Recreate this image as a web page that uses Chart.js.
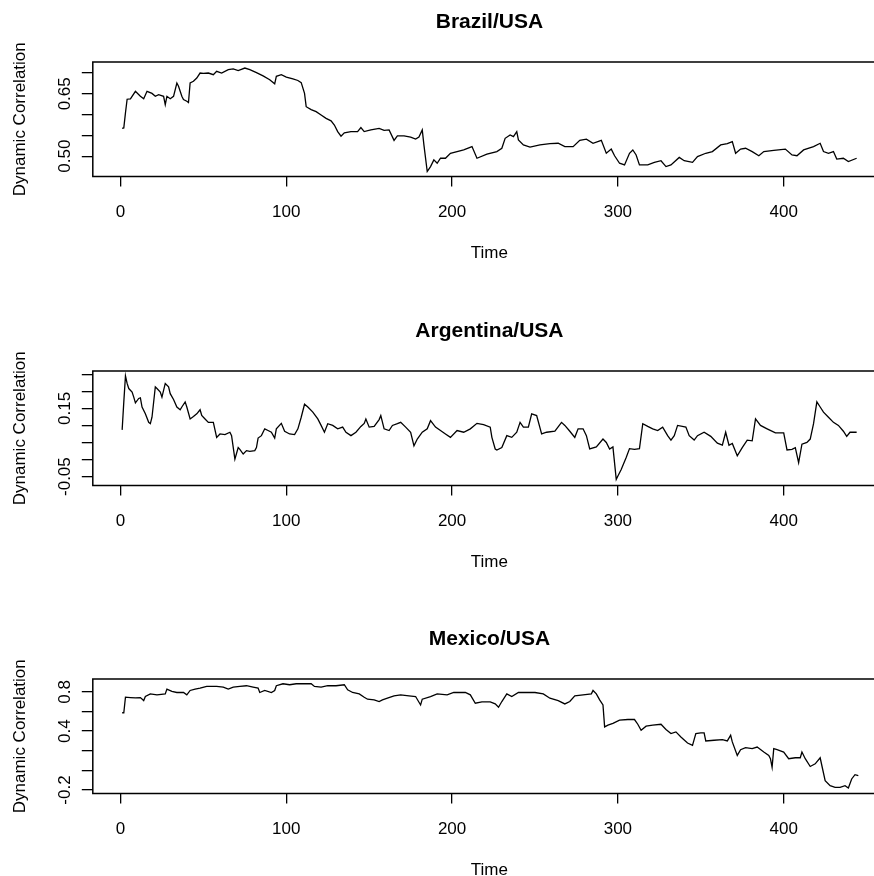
<!DOCTYPE html>
<html>
<head>
<meta charset="utf-8">
<title>Dynamic Correlation</title>
<script src="https://cdn.jsdelivr.net/npm/chart.js@4.4.1/dist/chart.umd.min.js"></script>
<style>
  html, body { margin: 0; padding: 0; background: #fff; overflow: hidden; }
  #wrap { position: relative; width: 874px; height: 876px; overflow: hidden; }
  canvas { position: absolute; left: 0; }
</style>
</head>
<body>
<div id="wrap">
  <canvas id="brazil" width="900" height="308" style="top:0px"></canvas>
  <canvas id="argentina" width="900" height="308" style="top:309px"></canvas>
  <canvas id="mexico" width="900" height="308" style="top:617px"></canvas>
</div>
<script>
'use strict';

// x axis
var xTicks = [0, 100, 200, 300, 400];

// Brazil/USA
var brazilTime = [
    1, 2, 3, 4, 6, 9, 12, 14, 16, 19,
    21, 23, 26, 27, 28, 30, 32, 34, 35, 37,
    38, 40, 41, 42, 44, 46, 48, 50, 53, 56,
    58, 61, 65, 68, 71, 75, 78, 82, 86, 90,
    93, 94, 97, 100, 104, 107, 109, 111, 112, 115,
    118, 121, 124, 127, 129, 131, 133, 135, 139, 143,
    145, 147, 151, 156, 159, 162, 165, 167, 171, 175,
    178, 180, 182, 183, 185, 187, 189, 191, 193, 196,
    199, 203, 207, 212, 215, 221, 227, 230, 232, 235,
    237, 239, 240, 243, 247, 253, 259, 264, 268, 273,
    277, 281, 285, 290, 293, 296, 298, 301, 304, 307,
    309, 311, 313, 318, 322, 326, 329, 332, 337, 340,
    345, 348, 353, 357, 362, 366, 369, 371, 374, 377,
    381, 385, 388, 394, 401, 405, 408, 412, 418, 422,
    424, 427, 430, 432, 436, 439, 444
];
var brazilValues = [
    0.567, 0.568, 0.604, 0.637, 0.638, 0.656, 0.644, 0.638, 0.656, 0.651,
    0.644, 0.648, 0.644, 0.624, 0.644, 0.638, 0.644, 0.676, 0.668, 0.644,
    0.636, 0.632, 0.629, 0.676, 0.680, 0.688, 0.700, 0.699, 0.700, 0.696,
    0.704, 0.700, 0.708, 0.710, 0.706, 0.712, 0.708, 0.701, 0.693, 0.684,
    0.674, 0.692, 0.696, 0.690, 0.686, 0.682, 0.677, 0.651, 0.619, 0.612,
    0.607, 0.599, 0.591, 0.585, 0.575, 0.559, 0.548, 0.556, 0.559, 0.559,
    0.569, 0.559, 0.563, 0.567, 0.562, 0.563, 0.538, 0.549, 0.549, 0.546,
    0.541, 0.546, 0.563, 0.527, 0.463, 0.475, 0.491, 0.483, 0.495, 0.495,
    0.507, 0.511, 0.515, 0.523, 0.495, 0.505, 0.511, 0.519, 0.543, 0.551,
    0.547, 0.559, 0.539, 0.527, 0.522, 0.527, 0.530, 0.531, 0.523, 0.523,
    0.538, 0.541, 0.531, 0.538, 0.507, 0.517, 0.501, 0.483, 0.479, 0.507,
    0.515, 0.503, 0.479, 0.479, 0.485, 0.489, 0.475, 0.479, 0.497, 0.489,
    0.485, 0.499, 0.507, 0.511, 0.527, 0.530, 0.535, 0.507, 0.517, 0.519,
    0.511, 0.501, 0.511, 0.514, 0.517, 0.503, 0.501, 0.515, 0.523, 0.531,
    0.511, 0.507, 0.511, 0.493, 0.495, 0.487, 0.495
];
var brazilYTicks = [0.50, 0.55, 0.60, 0.65, 0.70];
var brazilYLabels = ['0.50', '0.65'];

// Argentina/USA
var argentinaTime = [
    1, 2, 3, 4, 5, 7, 8, 9, 11, 12,
    13, 15, 17, 18, 19, 21, 22, 24, 25, 27,
    29, 30, 32, 34, 36, 37, 39, 40, 42, 44,
    46, 48, 49, 51, 53, 56, 58, 60, 63, 66,
    67, 69, 71, 72, 74, 76, 78, 81, 82, 83,
    85, 87, 89, 91, 93, 94, 97, 99, 102, 105,
    107, 109, 111, 113, 116, 119, 121, 123, 125, 128,
    131, 134, 136, 139, 142, 145, 147, 148, 150, 153,
    156, 157, 159, 162, 164, 167, 169, 172, 175, 177,
    179, 182, 185, 187, 190, 193, 196, 199, 203, 207,
    211, 215, 219, 223, 224, 226, 227, 230, 233, 236,
    239, 241, 243, 246, 248, 251, 254, 257, 262, 266,
    268, 271, 274, 276, 279, 281, 283, 287, 291, 293,
    295, 297, 299, 300, 302, 305, 307, 310, 313, 315,
    318, 321, 324, 327, 330, 332, 334, 336, 341, 343,
    346, 348, 352, 356, 360, 363, 365, 367, 369, 372,
    375, 378, 381, 383, 386, 390, 395, 400, 402, 405,
    407, 409, 411, 414, 416, 418, 420, 422, 424, 427,
    430, 433, 436, 438, 440, 444
];
var argentinaValues = [
    0.087, 0.169, 0.245, 0.223, 0.208, 0.198, 0.183, 0.166, 0.179, 0.181,
    0.154, 0.134, 0.109, 0.105, 0.124, 0.213, 0.208, 0.198, 0.183, 0.223,
    0.213, 0.193, 0.176, 0.154, 0.146, 0.154, 0.169, 0.154, 0.119, 0.126,
    0.134, 0.146, 0.129, 0.119, 0.109, 0.109, 0.065, 0.075, 0.073, 0.080,
    0.070, 0.001, 0.035, 0.030, 0.016, 0.026, 0.024, 0.026, 0.035, 0.063,
    0.070, 0.090, 0.085, 0.080, 0.063, 0.090, 0.106, 0.083, 0.075, 0.073,
    0.090, 0.124, 0.162, 0.154, 0.139, 0.119, 0.100, 0.080, 0.105, 0.100,
    0.090, 0.095, 0.080, 0.070, 0.080, 0.097, 0.106, 0.119, 0.095, 0.097,
    0.117, 0.129, 0.090, 0.085, 0.100, 0.105, 0.109, 0.095, 0.080, 0.040,
    0.060, 0.080, 0.090, 0.114, 0.095, 0.085, 0.075, 0.065, 0.085, 0.080,
    0.090, 0.106, 0.102, 0.095, 0.065, 0.031, 0.028, 0.035, 0.070, 0.065,
    0.080, 0.109, 0.095, 0.095, 0.134, 0.129, 0.075, 0.080, 0.083, 0.109,
    0.100, 0.083, 0.065, 0.090, 0.090, 0.070, 0.031, 0.037, 0.060, 0.050,
    0.031, 0.037, -0.058, -0.048, -0.029, 0.006, 0.032, 0.030, 0.032, 0.105,
    0.097, 0.090, 0.085, 0.095, 0.070, 0.057, 0.070, 0.100, 0.095, 0.070,
    0.057, 0.070, 0.080, 0.068, 0.048, 0.042, 0.080, 0.042, 0.047, 0.011,
    0.035, 0.057, 0.055, 0.119, 0.100, 0.090, 0.078, 0.078, 0.028, 0.030,
    0.035, -0.009, 0.045, 0.050, 0.060, 0.105, 0.169, 0.154, 0.139, 0.124,
    0.109, 0.100, 0.083, 0.068, 0.080, 0.080
];
var argentinaYTicks = [-0.05, 0, 0.05, 0.10, 0.15, 0.20, 0.25];
var argentinaYLabels = ['-0.05', '0.15'];

// Mexico/USA
var mexicoTime = [
    1, 2, 3, 6, 9, 12, 14, 15, 18, 22,
    27, 28, 31, 34, 38, 40, 42, 45, 48, 52,
    58, 62, 65, 68, 72, 76, 80, 83, 84, 87,
    91, 93, 94, 98, 102, 106, 111, 115, 117, 121,
    125, 130, 135, 137, 140, 144, 147, 149, 153, 156,
    158, 161, 165, 169, 174, 178, 181, 182, 187, 191,
    197, 201, 208, 211, 214, 218, 223, 226, 228, 230,
    233, 236, 240, 245, 250, 255, 259, 264, 268, 271,
    274, 279, 284, 285, 287, 289, 291, 292, 294, 297,
    301, 306, 310, 312, 314, 317, 321, 326, 329, 332,
    335, 338, 342, 345, 347, 350, 352, 353, 358, 363,
    366, 368, 369, 372, 374, 377, 381, 384, 388, 391,
    392, 393, 394, 396, 400, 403, 407, 410, 411, 413,
    416, 419, 422, 423, 425, 428, 431, 434, 437, 439,
    441, 443, 445
];
var mexicoValues = [
    0.587, 0.587, 0.745, 0.741, 0.738, 0.741, 0.711, 0.752, 0.779, 0.769,
    0.779, 0.828, 0.804, 0.793, 0.793, 0.769, 0.814, 0.828, 0.838, 0.855,
    0.855, 0.848, 0.828, 0.848, 0.855, 0.862, 0.848, 0.838, 0.793, 0.814,
    0.793, 0.814, 0.862, 0.882, 0.872, 0.882, 0.882, 0.882, 0.855, 0.848,
    0.862, 0.862, 0.872, 0.821, 0.793, 0.779, 0.745, 0.725, 0.718, 0.701,
    0.718, 0.735, 0.759, 0.769, 0.759, 0.752, 0.666, 0.725, 0.752, 0.779,
    0.769, 0.793, 0.793, 0.769, 0.684, 0.697, 0.697, 0.677, 0.643, 0.701,
    0.779, 0.752, 0.793, 0.793, 0.793, 0.779, 0.735, 0.711, 0.677, 0.701,
    0.759, 0.769, 0.779, 0.814, 0.779, 0.718, 0.666, 0.443, 0.460, 0.478,
    0.512, 0.518, 0.518, 0.470, 0.409, 0.450, 0.460, 0.470, 0.416, 0.375,
    0.392, 0.341, 0.279, 0.255, 0.375, 0.382, 0.382, 0.300, 0.307, 0.313,
    0.300, 0.358, 0.290, 0.153, 0.211, 0.231, 0.221, 0.238, 0.187, 0.153,
    0.119, 0.032, 0.221, 0.211, 0.187, 0.119, 0.129, 0.129, 0.187, 0.119,
    0.040, 0.067, 0.129, 0.050, -0.104, -0.156, -0.173, -0.173, -0.156, -0.180,
    -0.087, -0.043, -0.053
];
var mexicoYTicks = [-0.2, 0, 0.2, 0.4, 0.6, 0.8];
var mexicoYLabels = ['-0.2', '0.4', '0.8'];

Chart.defaults.font.family = '"Liberation Sans", Arial, Helvetica, sans-serif';
Chart.defaults.color = '#000';

// box round the plot region, like R's box()
var framePlugin = {
    id: 'frame',
    afterDraw: function (chart) {
        var a = chart.chartArea, ctx = chart.ctx;
        ctx.save();
        ctx.strokeStyle = '#000';
        ctx.lineWidth = 1.5;
        ctx.strokeRect(a.left, a.top, a.right - a.left, a.bottom - a.top);
        ctx.restore();
    }
};

// y tick labels turned parallel to the axis
var yLabelPlugin = {
    id: 'yLabels',
    afterDraw: function (chart, args, opts) {
        var ctx = chart.ctx, y = chart.scales.y;
        ctx.save();
        ctx.font = '17px "Liberation Sans", Arial, sans-serif';
        ctx.fillStyle = '#000';
        ctx.textAlign = 'center';
        ctx.textBaseline = 'middle';
        opts.labels.forEach(function (lab) {
            ctx.save();
            ctx.translate(y.left + opts.x, y.getPixelForValue(parseFloat(lab)));
            ctx.rotate(-Math.PI / 2);
            ctx.fillText(lab, 0, 0);
            ctx.restore();
        });
        ctx.restore();
    }
};

function makePanel(id, title, times, values, yMin, yMax, yTicks, yLabels) {
    var points = times.map(function (t, i) { return {x: t, y: values[i]}; });
    return new Chart(document.getElementById(id), {
        type: 'line',
        data: {
            datasets: [{
                data: points,
                borderColor: '#000',
                borderWidth: 1.3,
                pointRadius: 0,
                tension: 0,
                fill: false
            }]
        },
        options: {
            responsive: false,
            animation: false,
            layout: { padding: { top: 0, right: 14, bottom: 0, left: 0 } },
            plugins: {
                legend: { display: false },
                tooltip: { enabled: false },
                title: {
                    display: true,
                    text: title,
                    fullSize: false,
                    color: '#000',
                    font: { size: 21, weight: 'bold' },
                    padding: { top: 9.4, bottom: 27.4 }
                },
                yLabels: { labels: yLabels, x: 65 }
            },
            scales: {
                x: {
                    type: 'linear',
                    min: -16.7,
                    max: 461.7,
                    afterBuildTicks: function (s) { s.ticks = xTicks.map(function (v) { return {value: v}; }); },
                    afterFit: function (s) { s.height = 131.5; },
                    grid: { drawOnChartArea: false, drawTicks: true, tickLength: 10, color: '#000', lineWidth: 1.3 },
                    border: { display: false },
                    ticks: { font: { size: 17 }, padding: 15.3, maxRotation: 0, autoSkip: false },
                    title: { display: true, text: 'Time', font: { size: 17 }, padding: { top: 0, bottom: 44.8 } }
                },
                y: {
                    type: 'linear',
                    min: yMin,
                    max: yMax,
                    afterBuildTicks: function (s) { s.ticks = yTicks.map(function (v) { return {value: v}; }); },
                    afterFit: function (s) { s.width = 92.8; },
                    grid: { drawOnChartArea: false, drawTicks: true, tickLength: 11, color: '#000', lineWidth: 1.3 },
                    border: { display: false },
                    ticks: { display: false, autoSkip: false },
                    title: { display: true, text: 'Dynamic Correlation', font: { size: 17 }, padding: { top: 10.3, bottom: 0 } }
                }
            }
        },
        plugins: [framePlugin, yLabelPlugin]
    });
}

makePanel('brazil', 'Brazil/USA', brazilTime, brazilValues, 0.4511, 0.7265, brazilYTicks, brazilYLabels);
makePanel('argentina', 'Argentina/USA', argentinaTime, argentinaValues, -0.0761, 0.2595, argentinaYTicks, argentinaYLabels);
makePanel('mexico', 'Mexico/USA', mexicoTime, mexicoValues, -0.235, 0.9305, mexicoYTicks, mexicoYLabels);
</script>
</body>
</html>
